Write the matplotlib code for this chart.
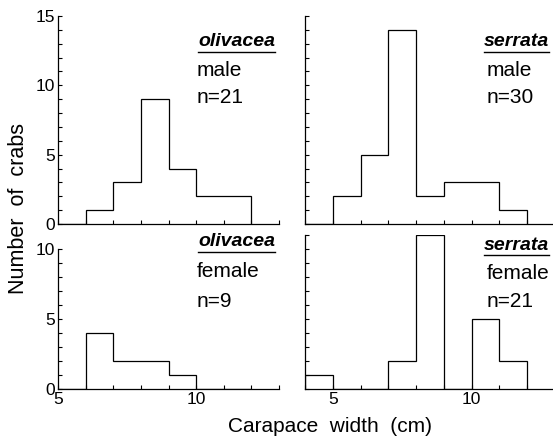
import matplotlib
matplotlib.use("Agg")
import matplotlib.pyplot as plt
from matplotlib.ticker import MultipleLocator, FixedLocator

plt.rcParams["font.family"] = ["Liberation Sans", "DejaVu Sans"]

# bin edges (cm) and counts per panel
edges = [4, 5, 6, 7, 8, 9, 10, 11, 12]
olivacea_male = [0, 0, 1, 3, 9, 4, 2, 2]
serrata_male = [0, 2, 5, 14, 2, 3, 3, 1]
olivacea_female = [0, 0, 4, 2, 2, 1, 0, 0]
serrata_female = [1, 0, 0, 2, 11, 0, 5, 2]

species = ["olivacea", "serrata", "olivacea", "serrata"]
sexes = ["male", "male", "female", "female"]
n_labels = ["n=21", "n=30", "n=9", "n=21"]

fig = plt.figure(figsize=(5.53, 4.42), dpi=100)
W, H = 553, 442


def px_axes(x0, x1, y0, y1):
    return fig.add_axes([x0 / W, 1 - y1 / H, (x1 - x0) / W, (y1 - y0) / H])


ax_tl = px_axes(58, 279, 16, 224)
ax_tr = px_axes(305, 555, 16, 224)
ax_bl = px_axes(58, 279, 235, 389)
ax_br = px_axes(305, 555, 235, 389)
axes = [ax_tl, ax_tr, ax_bl, ax_br]
counts = [olivacea_male, serrata_male, olivacea_female, serrata_female]

for i, (ax, c) in enumerate(zip(axes, counts)):
    ax.stairs(c, edges, color="black", linewidth=0.9, baseline=0)
    ax.spines["top"].set_visible(False)
    ax.spines["right"].set_visible(False)
    for s in ("left", "bottom"):
        ax.spines[s].set_linewidth(0.9)
    ax.set_xlim(5 if i % 2 == 0 else 4, 13)
    ax.set_ylim(0, 15 if i < 2 else 11)
    ax.xaxis.set_major_locator(MultipleLocator(5))
    ax.xaxis.set_minor_locator(MultipleLocator(1))
    ax.yaxis.set_major_locator(MultipleLocator(5))
    ax.yaxis.set_minor_locator(MultipleLocator(1))
    ax.tick_params(which="both", direction="in", length=3, width=0.8,
                   labelsize=12.5, pad=2)
    if i < 2:
        ax.tick_params(labelbottom=False)
    if i % 2 == 1:
        ax.tick_params(labelleft=False)
    ax.patch.set_alpha(0)

ax_bl.spines["left"].set_bounds(0, 10)
ax_bl.set_yticks([0, 5, 10])
ax_bl.yaxis.set_minor_locator(FixedLocator(range(0, 11)))

# annotations
txt_x = [(197 - 58) / 221, (487 - 305) / 250] * 2
sp_right = [(275 - 58) / 221, (549 - 305) / 250] * 2
ys = [(0.875, 0.74, 0.606), (0.875, 0.74, 0.606),
      (0.955, 0.76, 0.565), (0.935, 0.753, 0.565)]
sp_texts = []
for i, ax in enumerate(axes):
    y0, y1, y2 = ys[i]
    t = ax.text(sp_right[i], y0, species[i], transform=ax.transAxes,
                ha="right", va="center", fontsize=14, fontweight="bold",
                fontstyle="italic")
    sp_texts.append(t)
    ax.text(txt_x[i], y1, sexes[i], transform=ax.transAxes, ha="left",
            va="center", fontsize=15)
    ax.text(txt_x[i], y2, n_labels[i], transform=ax.transAxes, ha="left",
            va="center", fontsize=15)

fig.canvas.draw()
renderer = fig.canvas.get_renderer()
for ax, t in zip(axes, sp_texts):
    bb = t.get_window_extent(renderer).transformed(ax.transAxes.inverted())
    ax.plot([bb.x0, bb.x1], [bb.y0 - 0.008, bb.y0 - 0.008], color="black",
            linewidth=1.0, transform=ax.transAxes, clip_on=False)

fig.text(19 / W, 1 - 208 / H, "Number  of  crabs", rotation=90,
         ha="center", va="center", fontsize=15.5)
fig.text(330 / W, 1 - 427 / H, "Carapace  width  (cm)", ha="center",
         va="center", fontsize=15)

fig.savefig("out.png", dpi=100)
